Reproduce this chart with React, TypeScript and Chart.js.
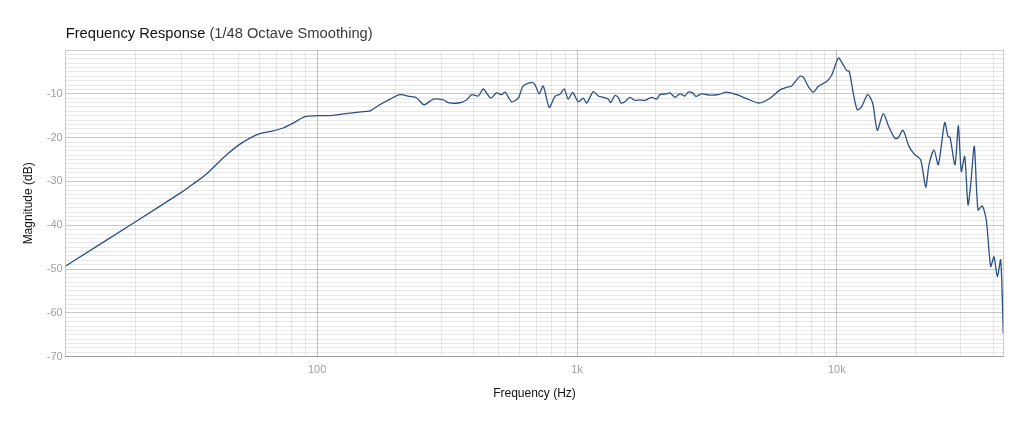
import React, { useEffect, useRef } from "react";
import { Chart, registerables } from "chart.js";

Chart.register(...registerables);

const FREQ_HZ = [10.77, 20, 30, 33.3, 37.5, 44.8, 50, 55.1, 60.2, 67.7, 74, 80.8, 89.7,
  100, 115, 134, 155, 160, 174, 191,
  208, 227, 241, 258, 280, 306, 319, 349, 376, 393,
  417, 436, 465, 490, 513, 528, 560, 594, 621, 669,
  689, 715, 741, 782, 822, 860, 893, 925, 962, 1011,
  1057, 1089, 1155, 1207, 1261, 1319, 1347, 1399, 1441, 1476,
  1529, 1598, 1671, 1746, 1826, 1937, 2025, 2085, 2213, 2279,
  2382, 2490, 2602, 2679, 2786, 2869, 3018, 3247, 3496, 3766,
  4115, 4496, 5015, 5527, 6040, 6411, 6699, 7211, 7426, 7761,
  8113, 8480, 9135, 9550, 9982, 10169, 10583, 10907, 11161, 11564,
  11982, 12456, 13140, 13733, 14304, 15084, 15840, 16693, 17189, 17967,
  18950, 19810, 21020, 21970, 22625, 23650, 24570, 26000, 26770, 27250,
  28490, 29340, 30120, 31040, 31960, 32730, 33800, 34920, 36280, 37590,
  39080, 40240, 41440, 42710, 43700];

const MAGNITUDE_DB = [-49.3, -39.2, -32.5, -30.6, -28.3, -23.9, -21.65, -20.1, -19.1, -18.45, -17.8, -16.7, -15.2,
  -15.0, -14.9, -14.4, -14.0, -13.9, -12.5, -11.2,
  -10.2, -10.6, -10.9, -12.5, -11.2, -11.4, -12.0, -12.1, -11.4, -10.2,
  -10.5, -8.9, -11.0, -9.8, -10.2, -9.6, -11.8, -11.0, -8.2, -7.4,
  -7.9, -10.0, -8.2, -13.1, -10.6, -10.1, -8.9, -11.2, -9.7, -11.8,
  -11.0, -12.1, -9.5, -10.5, -10.8, -11.2, -12.0, -10.4, -10.8, -12.1,
  -11.8, -10.8, -11.5, -11.4, -11.5, -10.8, -11.2, -10.2, -10.0, -9.8,
  -10.8, -10.0, -10.5, -9.6, -9.8, -10.6, -10.0, -10.3, -10.2, -9.6,
  -10.2, -11.1, -12.1, -11.0, -9.1, -8.5, -8.2, -6.0, -6.2, -8.3,
  -9.6, -8.3, -7.2, -5.7, -2.6, -1.8, -3.4, -4.7, -4.9, -9.85,
  -13.65, -12.9, -10.2, -12.1, -18.3, -14.5, -17.5, -20.1, -20.1, -18.3,
  -22.0, -23.7, -25.1, -31.3, -26.2, -22.8, -26.2, -16.55, -19.75, -19.9,
  -26.2, -17.3, -27.7, -24.3, -35.35, -30.8, -22.0, -36.5, -35.6, -38.8,
  -49.4, -47.2, -51.7, -47.9, -64.7];

const X_MIN = 10.77;
const X_MAX = 43700;
const X_MAJOR_TICKS = [100, 1000, 10000];
const X_TICK_LABELS = ["100", "1k", "10k"];
const Y_MIN = -70;
const Y_MAX = 0;
const Y_LABEL_STEP = 10;

const TITLE_MAIN = "Frequency Response";
const TITLE_SUB = " (1/48 Octave Smoothing)";
const X_TITLE = "Frequency (Hz)";
const Y_TITLE = "Magnitude (dB)";

const FONT = "'Liberation Sans', Arial, Helvetica, sans-serif";
const MAJOR_GRID = "rgba(0,0,0,0.22)";
const MINOR_GRID = "rgba(0,0,0,0.085)";
const BORDER = "rgba(0,0,0,0.2)";

function xGridValues(): number[] {
  const vals: number[] = [];
  for (const d of [10, 100, 1000, 10000]) {
    for (let m = 1; m <= 9; m++) {
      const v = m * d;
      if (v > X_MIN && v < X_MAX) vals.push(v);
    }
  }
  vals.push(X_MAX);
  return vals;
}

function yGridValues(): number[] {
  const vals: number[] = [];
  for (let v = Y_MIN; v <= Y_MAX; v++) vals.push(v);
  return vals;
}

const titlePlugin = {
  id: "twoPartTitle",
  afterDraw(chart: any) {
    const ctx = chart.ctx;
    const x0 = chart.chartArea.left;
    ctx.save();
    ctx.textBaseline = "middle";
    ctx.textAlign = "left";
    ctx.font = `14.7px ${FONT}`;
    ctx.fillStyle = "#111111";
    ctx.fillText(TITLE_MAIN, x0, 34);
    const w = ctx.measureText(TITLE_MAIN).width;
    ctx.fillStyle = "#3a3a3a";
    ctx.fillText(TITLE_SUB, x0 + w, 34);
    ctx.restore();
  },
};

export default function App() {
  const ref = useRef<HTMLCanvasElement | null>(null);

  useEffect(() => {
    if (!ref.current) return;
    const points = FREQ_HZ.map((f, i) => ({ x: f, y: MAGNITUDE_DB[i] }));
    const chart = new Chart(ref.current, {
      type: "line",
      data: {
        datasets: [
          {
            data: points,
            borderColor: "#2b5285",
            borderWidth: 1.3,
            pointRadius: 0,
            tension: 0.25,
            fill: false,
          },
        ],
      },
      options: {
        animation: false,
        responsive: false,
        devicePixelRatio: 1,
        layout: { padding: { top: 50, right: 20.7, left: 0, bottom: 0 } },
        plugins: {
          legend: { display: false },
          title: { display: false },
          tooltip: { enabled: false },
        },
        scales: {
          x: {
            type: "logarithmic",
            min: X_MIN,
            max: X_MAX,
            afterBuildTicks: (scale: any) => {
              scale.ticks = xGridValues().map((v) => ({ value: v }));
            },
            afterFit: (scale: any) => {
              scale.height = 427 - 356.7;
            },
            ticks: {
              autoSkip: false,
              maxRotation: 0,
              padding: 7,
              color: "#a0a0a0",
              font: { family: FONT, size: 11 },
              callback: (value: any) => {
                const i = X_MAJOR_TICKS.indexOf(Number(value));
                return i >= 0 ? X_TICK_LABELS[i] : "";
              },
            },
            grid: {
              drawTicks: false,
              color: (c: any) => {
                const v = c.tick?.value;
                if (v === X_MAX) return BORDER;
                return X_MAJOR_TICKS.includes(v) ? MAJOR_GRID : MINOR_GRID;
              },
              lineWidth: 1,
            },
            border: { display: true, color: MAJOR_GRID },
            title: {
              display: true,
              text: X_TITLE,
              color: "#111111",
              font: { family: FONT, size: 12 },
              padding: { top: 0, bottom: 25.8 },
            },
          },
          y: {
            type: "linear",
            min: Y_MIN,
            max: Y_MAX,
            afterBuildTicks: (scale: any) => {
              scale.ticks = yGridValues().map((v) => ({ value: v }));
            },
            afterFit: (scale: any) => {
              scale.width = 65.7;
            },
            ticks: {
              autoSkip: false,
              padding: 3,
              color: "#a0a0a0",
              font: { family: FONT, size: 11 },
              callback: (value: any) => {
                const v = Number(value);
                return v % Y_LABEL_STEP === 0 && v !== Y_MAX ? String(v) : "";
              },
            },
            grid: {
              drawTicks: false,
              color: (c: any) => {
                const v = c.tick?.value;
                if (v === Y_MAX) return BORDER;
                return v % Y_LABEL_STEP === 0 ? MAJOR_GRID : MINOR_GRID;
              },
              lineWidth: 1,
            },
            border: { display: true, color: BORDER },
            title: {
              display: true,
              text: Y_TITLE,
              color: "#111111",
              font: { family: FONT, size: 12 },
              padding: { top: 21, bottom: 0 },
            },
          },
        },
      },
      plugins: [titlePlugin],
    });
    return () => chart.destroy();
  }, []);

  return (
    <div style={{ position: "absolute", left: 0, top: 0, width: 1024, height: 427, background: "#ffffff" }}>
      <canvas ref={ref} width={1024} height={427} style={{ display: "block", width: 1024, height: 427 }} />
    </div>
  );
}
